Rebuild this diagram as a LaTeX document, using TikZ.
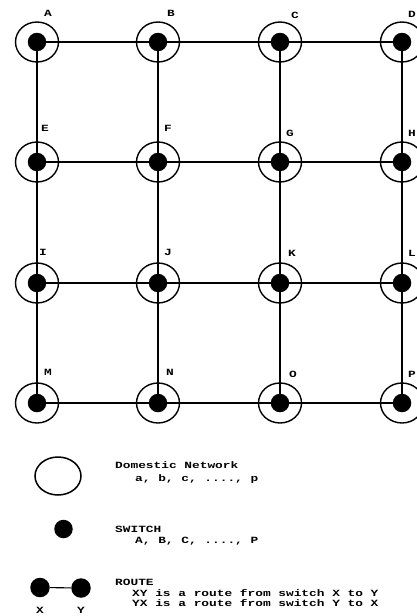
\documentclass[tikz,border=0pt]{standalone}
\usepackage{fontspec}
\usetikzlibrary{shapes.geometric}
\newfontfamily\labfont{Liberation Mono}[FakeStretch=1.35]
\begin{document}
\begin{tikzpicture}[x=1pt,y=-1pt,
  netc/.style={draw, line width=1.4pt, ellipse, minimum width=43pt, minimum height=40pt, inner sep=0pt},
  sw/.style={circle, fill=black, minimum size=18.5pt, inner sep=0pt},
  link/.style={line width=1.1pt},
  glab/.style={font=\labfont\bfseries\fontsize{9.5}{10}\selectfont, inner sep=0pt},
  ltxt/.style={font=\labfont\bfseries\fontsize{9.5}{10}\selectfont, inner sep=0pt, anchor=base west}]
\useasboundingbox (0,0) rectangle (417,616);
% grid
\foreach \n/\x/\y in {A/37/42,B/158/42,C/280/42,D/402/42,
                      E/37/162,F/158/162,G/280/162,H/402/162,
                      I/37/283,J/158/283,K/280/283,L/402/283,
                      M/37/403,N/158/403,O/280/403,P/402/403}{
  \node[netc] (n\n) at (\x,\y) {};
  \node[sw] (s\n) at (\x,\y) {};
}
% horizontal links
\foreach \a/\b in {A/B,B/C,C/D,E/F,F/G,G/H,I/J,J/K,K/L,M/N,N/O,O/P}{
  \draw[link] (s\a) -- (s\b);
}
% vertical links
\foreach \a/\b in {A/E,E/I,I/M,B/F,F/J,J/N,C/G,G/K,K/O,D/H,H/L,L/P}{
  \draw[link] (s\a) -- (s\b);
}
% grid labels
\foreach \n/\x/\y in {A/48/13,B/171/13,C/295/15,D/412/14,
                      E/45/128,F/168/128,G/290/133,H/412/133,
                      I/43/252,J/168/252,K/292/253,L/412/253,
                      M/48/372,N/170/372,O/293/374,P/412/374}{
  \node[glab] (l\n) at (\x,\y) {\n};
}
% legend
\node[draw, line width=1.5pt, ellipse, minimum width=46pt, minimum height=38pt, inner sep=0pt] (legnet) at (58,476) {};
\node[ltxt] (tnet1) at (115,468) {Domestic Network};
\node[ltxt] (tnet2) at (135,481) {a, b, c, ...., p};
\node[sw] (legsw) at (63.5,529) {};
\node[ltxt] (tsw1) at (115,532) {SWITCH};
\node[ltxt] (tsw2) at (135,543) {A, B, C, ...., P};
\node[sw, minimum size=19.5pt] (rx) at (40,587.5) {};
\node[sw, minimum size=19.5pt] (ry) at (81,588) {};
\draw[link] (rx) -- (ry);
\node[glab] (lx) at (40,610) {X};
\node[glab] (ly) at (81,610) {Y};
\node[ltxt] (tr1) at (115,585) {ROUTE};
\node[ltxt] (tr2) at (132,596) {XY is a route from switch X to Y};
\node[ltxt] (tr3) at (132,606) {YX is a route from switch Y to X};
\end{tikzpicture}
\end{document}
